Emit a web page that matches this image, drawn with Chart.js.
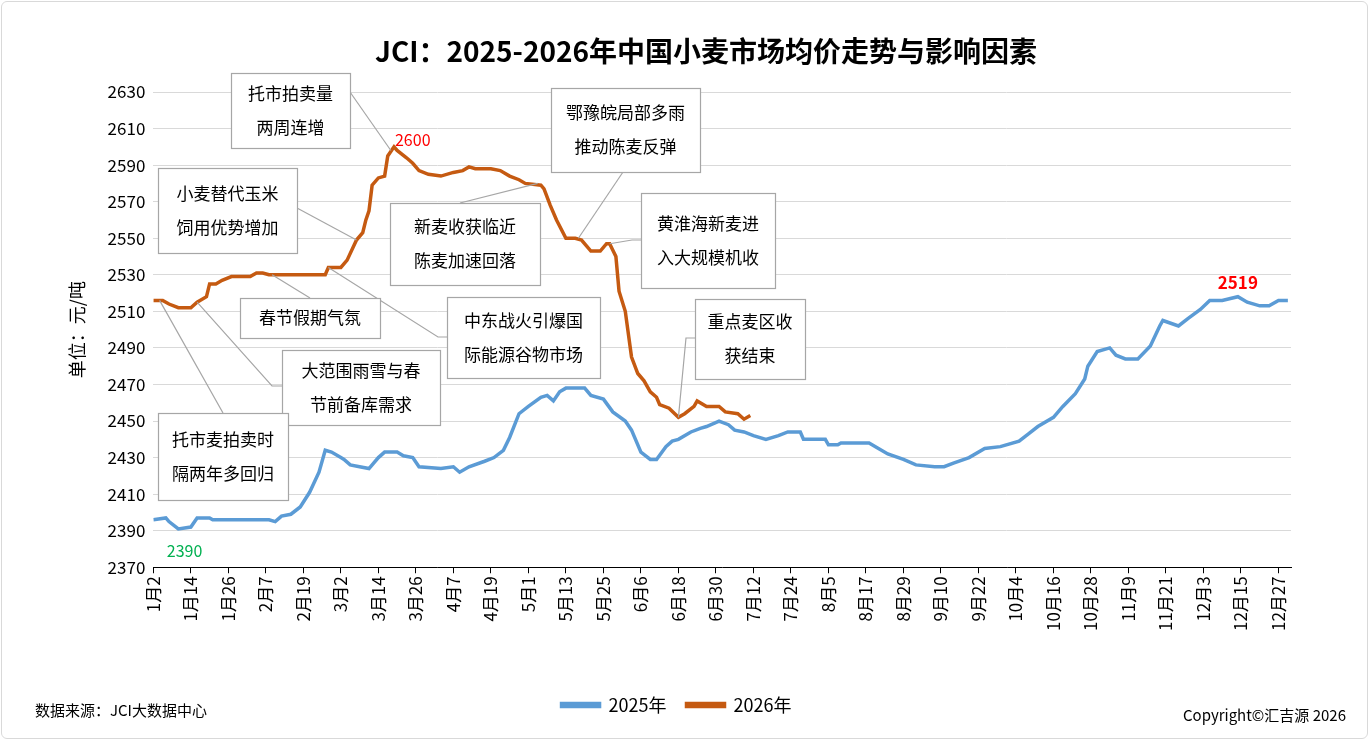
<!DOCTYPE html>
<html><head><meta charset="UTF-8">
<script src="https://cdn.jsdelivr.net/npm/chart.js"></script>
<style>
 body{margin:0;background:#fff;font-family:'Noto Sans CJK SC',sans-serif}
 #wrap{position:relative;width:1371px;height:742px}
 .frame{position:absolute;left:1px;top:1px;width:1367px;height:738px;border:1px solid #d9d9d9;border-radius:6px;box-sizing:border-box}
</style></head>
<body><div id="wrap"><div class="frame"></div><canvas id="c" width="1371" height="742"></canvas></div>
<script>
// day index 0 = 1月2
const days2025 = [0,4,5,8,12,14,18,19,37,39,41,44,47,50,53,55,57,60,61,63,66,69,72,74,78,80,83,85,92,96,98,101,106,109,112,114,117,120,124,126,128,130,132,138,140,144,147,151,153,156,159,161,164,166,168,172,175,177,181,184,186,189,192,196,200,203,207,208,215,216,219,220,229,232,235,240,244,250,253,256,261,266,271,277,280,283,288,291,295,298,299,302,306,308,311,315,319,322,323,328,331,335,338,342,347,350,354,357,360,363];
const vals2025 = [2396,2397,2395,2391,2392,2397,2397,2396,2396,2395,2398,2399,2403,2411,2422,2434,2433,2430,2429,2426,2425,2424,2430,2433,2433,2431,2430,2425,2424,2425,2422,2425,2428,2430,2434,2441,2454,2458,2463,2464,2461,2466,2468,2468,2464,2462,2455,2450,2445,2433,2429,2429,2436,2439,2440,2444,2446,2447,2450,2448,2445,2444,2442,2440,2442,2444,2444,2440,2440,2437,2437,2438,2438,2435,2432,2429,2426,2425,2425,2427,2430,2435,2436,2439,2443,2447,2452,2458,2465,2473,2480,2488,2490,2486,2484,2484,2491,2502,2505,2502,2506,2511,2516,2516,2518,2515,2513,2513,2516,2516];
const days2026 = [0,3,5,8,12,14,17,18,20,22,25,31,33,35,37,55,56,60,62,65,67,68,69,70,72,74,75,77,78,81,83,85,88,92,96,99,101,103,108,111,114,117,119,124,125,127,129,132,135,137,140,143,145,146,148,149,151,153,155,157,159,161,162,165,168,170,173,174,177,181,183,187,189,191];
const vals2026 = [2516,2516,2514,2512,2512,2515,2518,2525,2525,2527,2529,2529,2531,2531,2530,2530,2534,2534,2538,2549,2553,2560,2565,2579,2583,2584,2595,2600,2598,2594,2591,2587,2585,2584,2586,2587,2589,2588,2588,2587,2584,2582,2580,2579,2577,2568,2560,2550,2550,2549,2543,2543,2547,2547,2540,2521,2510,2485,2476,2472,2466,2463,2459,2457,2452,2454,2458,2461,2458,2458,2455,2454,2451,2453];
const yTicks = [2370,2390,2410,2430,2450,2470,2490,2510,2530,2550,2570,2590,2610,2630];

// annotations: text lines, box [x,y,w,h] in px, elbow/anchor px, target (day, value)
const notes = [
  {t:['托市拍卖量','两周连增'], box:[231,73,119,75], from:[[350,92]], to:[76,2598]},
  {t:['小麦替代玉米','饲用优势增加'], box:[158,168,139,85], from:[[297,208]], to:[65,2549]},
  {t:['春节假期气氛'], box:[240,298,140,40], from:[[310,298]], to:[38,2530]},
  {t:['中东战火引爆国','际能源谷物市场'], box:[447,297,153,81], from:[[447,337],[438,337]], to:[56,2534]},
  {t:['大范围雨雪与春','节前备库需求'], box:[282,350,158,75], from:[[282,386],[272,386]], to:[14,2515]},
  {t:['托市麦拍卖时','隔两年多回归'], box:[158,413,130,87], from:[[223,413]], to:[2,2516]},
  {t:['新麦收获临近','陈麦加速回落'], box:[390,203,150,82], from:[[460,203]], to:[123,2580]},
  {t:['鄂豫皖局部多雨','推动陈麦反弹'], box:[551,88,149,84], from:[[623,172]], to:[136,2550]},
  {t:['黄淮海新麦进','入大规模机收'], box:[641,193,134,95], from:[[641,240],[632,240]], to:[146,2547]},
  {t:['重点麦区收','获结束'], box:[695,299,110,80], from:[[695,338],[686,338]], to:[168,2452]}
];

const pts = (d, v) => d.map((x, i) => ({x, y: v[i]}));
const dayLabel = d => { const dt = new Date(2024, 0, 2 + d); return (dt.getMonth()+1) + '月' + dt.getDate(); };

const annoPlugin = {
  id: 'anno',
  afterDatasetsDraw(chart) {
    const {ctx, scales:{x, y}} = chart;
    ctx.save();
    ctx.fillStyle = '#000'; ctx.textAlign = 'center'; ctx.textBaseline = 'middle';
    ctx.font = 'bold 28px "Noto Sans CJK SC"';
    ctx.fillText('JCI：2025-2026年中国小麦市场均价走势与影响因素', 706, 51);
    ctx.font = '17px "Noto Sans CJK SC"';
    notes.forEach(n => {
      ctx.strokeStyle = '#a6a6a6'; ctx.lineWidth = 1.2;
      ctx.beginPath();
      ctx.moveTo(n.from[0][0], n.from[0][1]);
      n.from.slice(1).forEach(p => ctx.lineTo(p[0], p[1]));
      ctx.lineTo(x.getPixelForValue(n.to[0]), y.getPixelForValue(n.to[1]));
      ctx.stroke();
    });
    notes.forEach(n => {
      const [bx, by, bw, bh] = n.box;
      ctx.fillStyle = '#fff'; ctx.fillRect(bx, by, bw, bh);
      ctx.strokeStyle = '#a6a6a6'; ctx.strokeRect(bx + .5, by + .5, bw, bh);
      ctx.fillStyle = '#000'; ctx.textAlign = 'center'; ctx.textBaseline = 'middle';
      const lh = 34, y0 = by + bh / 2 - (n.t.length - 1) * lh / 2;
      n.t.forEach((s, i) => ctx.fillText(s, bx + bw / 2, y0 + i * lh));
    });
    // value labels
    ctx.textAlign = 'center'; ctx.textBaseline = 'bottom';
    ctx.font = '16px "Noto Sans CJK SC"'; ctx.fillStyle = '#ff0000';
    ctx.fillText('2600', x.getPixelForValue(83), y.getPixelForValue(2600) + 1);
    ctx.font = 'bold 17px "Noto Sans CJK SC"';
    ctx.fillText('2519', x.getPixelForValue(347), y.getPixelForValue(2519) - 4);
    ctx.font = '16px "Noto Sans CJK SC"'; ctx.fillStyle = '#00b050'; ctx.textBaseline = 'top';
    ctx.fillText('2390', x.getPixelForValue(10), y.getPixelForValue(2391) + 14);
    // footer
    ctx.fillStyle = '#000'; ctx.font = '15px "Noto Sans CJK SC"'; ctx.textBaseline = 'middle';
    ctx.textAlign = 'left'; ctx.fillText('数据来源：JCI大数据中心', 35, 710);
    ctx.textAlign = 'right'; ctx.fillText('Copyright©汇吉源 2026', 1346, 715);
    ctx.restore();
  }
};

new Chart(document.getElementById('c'), {
  type: 'line',
  data: { datasets: [
    {label:'2025年', data: pts(days2025, vals2025), borderColor:'#5b9bd5', backgroundColor:'#5b9bd5', borderWidth:3.5, pointRadius:0, tension:0},
    {label:'2026年', data: pts(days2026, vals2026), borderColor:'#c55a11', backgroundColor:'#c55a11', borderWidth:3.5, pointRadius:0, tension:0}
  ]},
  options: {
    responsive:false, animation:false,
    layout:{padding:{left:62, right:80, top:92, bottom:18}},
    plugins:{
      title:{display:false},
      legend:{position:'bottom', labels:{boxWidth:38, boxHeight:3, font:{size:18, family:'Noto Sans CJK SC'}, color:'#000', padding:20}},
      tooltip:{enabled:false}
    },
    scales:{
      x:{type:'linear', min:0, max:364,
        afterBuildTicks: a => { a.ticks = []; for (let d = 0; d <= 360; d += 12) a.ticks.push({value:d}); },
        afterFit: a => { a.height += 42; },
        ticks:{callback: v => dayLabel(v), maxRotation:90, minRotation:90, font:{size:17, family:'Noto Sans CJK SC'}, color:'#000', autoSkip:false},
        grid:{drawOnChartArea:false, color:'#000', tickLength:6}, border:{color:'#000'}},
      y:{min:2370, max:2630,
        afterBuildTicks: a => { a.ticks = yTicks.map(v => ({value:v})); },
        ticks:{callback: v => String(v), font:{size:17, family:'Noto Sans CJK SC'}, color:'#000', padding:8},
        grid:{color:'#d9d9d9', drawTicks:false}, border:{display:false},
        title:{display:true, text:'单位：元/吨', font:{size:18, family:'Noto Sans CJK SC'}, color:'#000', padding:{bottom:12}}}
    }
  },
  plugins:[annoPlugin]
});
</script></body></html>
